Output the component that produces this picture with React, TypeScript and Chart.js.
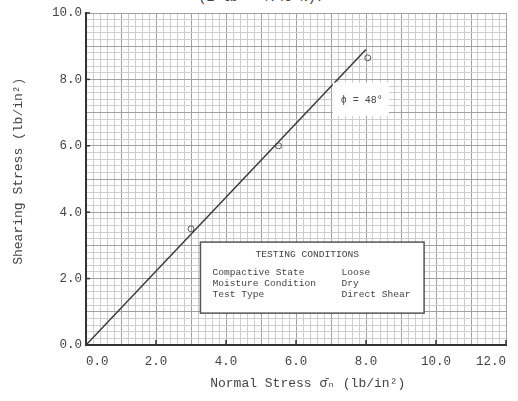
import React, { useEffect, useRef } from "react";
import { Chart, registerables } from "chart.js";

Chart.register(...registerables);

// Measured test points (normal stress, shearing stress), lb/in²
const testNormal = [3.0, 5.5, 8.05];
const testShear = [3.5, 6.0, 8.65];

// Failure envelope (phi = 48°) drawn through the origin
const envNormal = [0, 8.0];
const envShear = [0, 8.9];

const xLabelValues = [0, 2, 4, 6, 8, 10, 12];
const yLabelValues = [0, 2, 4, 6, 8, 10];

const conditionNames = ["Compactive State", "Moisture Condition", "Test Type"];
const conditionValues = ["Loose", "Dry", "Direct Shear"];

const FONT = "'Liberation Mono', 'DejaVu Sans Mono', monospace";
const INK = "#444";

const isOn = (v: number, step: number) => Math.abs(v / step - Math.round(v / step)) < 1e-6;

const overlayPlugin = {
  id: "overlay",
  afterDatasetsDraw(chart: any) {
    const { ctx } = chart;
    const xs = chart.scales.x;
    const ys = chart.scales.y;
    ctx.save();
    // inward tick marks
    ctx.strokeStyle = "#333";
    ctx.lineWidth = 1.5;
    xLabelValues.forEach((v) => {
      if (v === 0) return;
      const px = xs.getPixelForValue(v);
      ctx.beginPath();
      ctx.moveTo(px, ys.bottom);
      ctx.lineTo(px, ys.bottom - 5);
      ctx.stroke();
    });
    yLabelValues.forEach((v) => {
      if (v === 0) return;
      const py = ys.getPixelForValue(v);
      ctx.beginPath();
      ctx.moveTo(xs.left, py);
      ctx.lineTo(xs.left + 4, py);
      ctx.stroke();
    });

    // phi box
    const p1x = xs.getPixelForValue(7.05);
    const p2x = xs.getPixelForValue(8.65);
    const p1y = ys.getPixelForValue(7.9);
    const p2y = ys.getPixelForValue(6.9);
    ctx.fillStyle = "#fff";
    ctx.fillRect(p1x, p1y, p2x - p1x, p2y - p1y);
    ctx.fillStyle = INK;
    ctx.font = `10px ${FONT}`;
    ctx.textAlign = "center";
    ctx.textBaseline = "middle";
    ctx.fillText("\u03D5 = 48\u00B0", (p1x + p2x) / 2 + 1, (p1y + p2y) / 2 + 1);

    // testing conditions box
    const bx1 = xs.getPixelForValue(3.27);
    const bx2 = xs.getPixelForValue(9.66);
    const by1 = ys.getPixelForValue(3.1);
    const by2 = ys.getPixelForValue(0.96);
    ctx.fillStyle = "#fff";
    ctx.fillRect(bx1, by1, bx2 - bx1, by2 - by1);
    ctx.strokeStyle = "#555";
    ctx.lineWidth = 1.5;
    ctx.strokeRect(bx1, by1, bx2 - bx1, by2 - by1);
    ctx.fillStyle = INK;
    ctx.font = `9.6px ${FONT}`;
    ctx.textAlign = "center";
    ctx.fillText("TESTING CONDITIONS", (bx1 + bx2) / 2 - 5, by1 + 12);
    ctx.textAlign = "left";
    conditionNames.forEach((n, i) => {
      const y = by1 + 30 + i * 11.2;
      ctx.fillText(n, bx1 + 12, y);
      ctx.fillText(conditionValues[i], bx1 + 141, y);
    });
    ctx.restore();
  },
};

export default function App() {
  const ref = useRef<HTMLCanvasElement | null>(null);

  useEffect(() => {
    document.body.style.margin = "0";
    const canvas = ref.current!;
    const gridColor = (ctx: any) => {
      const v = ctx.tick ? ctx.tick.value : 0;
      if (isOn(v, 1)) return "#a0a0a0";
      return "#cdcdcd";
    };
    const chart = new Chart(canvas, {
      type: "scatter",
      data: {
        datasets: [
          {
            label: "Envelope",
            data: envNormal.map((x, i) => ({ x, y: envShear[i] })),
            showLine: true,
            borderColor: "#3a3a3a",
            borderWidth: 1.5,
            pointRadius: 0,
          },
          {
            label: "Tests",
            data: testNormal.map((x, i) => ({ x, y: testShear[i] })),
            showLine: false,
            pointStyle: "circle",
            pointRadius: 3,
            borderColor: "#555",
            borderWidth: 1,
            backgroundColor: "rgba(255,255,255,0)",
          },
        ],
      },
      options: {
        responsive: false,
        animation: false,
        devicePixelRatio: 1,
        layout: { padding: { top: 13, right: 12, left: 0, bottom: 0 }, autoPadding: false } as any,
        plugins: {
          legend: { display: false },
          tooltip: { enabled: false },
        },
        scales: {
          x: {
            type: "linear",
            min: 0,
            max: 12,
            afterFit: (s: any) => {
              s.height = 56;
              s.paddingLeft = 0;
              s.paddingRight = 0;
            },
            border: { color: "#333", width: 2 },
            grid: { color: gridColor, lineWidth: 1, drawTicks: false },
            ticks: {
              stepSize: 0.2,
              autoSkip: false,
              maxRotation: 0,
              align: "inner",
              padding: 9,
              color: INK,
              font: { family: FONT, size: 12.5 },
              callback: (v: any) => (isOn(Number(v), 2) ? Number(v).toFixed(1) : ""),
            },
            title: {
              display: true,
              text: "   Normal Stress \u03C3\u0304\u2099 (lb/in\u00B2)",
              color: INK,
              font: { family: FONT, size: 13 },
              padding: { top: 0, bottom: 10 },
            },
          },
          y: {
            type: "linear",
            min: 0,
            max: 10,
            afterFit: (s: any) => {
              s.width = 86;
              s.paddingTop = 0;
              s.paddingBottom = 0;
            },
            border: { color: "#333", width: 2 },
            grid: { color: gridColor, lineWidth: 1, drawTicks: false },
            ticks: {
              stepSize: 0.2,
              autoSkip: false,
              padding: 4,
              color: INK,
              font: { family: FONT, size: 12.5 },
              callback: (v: any) => (isOn(Number(v), 2) ? Number(v).toFixed(1) : ""),
            },
            title: {
              display: true,
              text: "  Shearing Stress (lb/in\u00B2)",
              color: INK,
              font: { family: FONT, size: 13 },
              padding: { top: 11, bottom: 0 },
            },
          },
        },
      },
      plugins: [overlayPlugin],
    });
    return () => chart.destroy();
  }, []);

  return (
    <div style={{ position: "absolute", left: 0, top: 0, width: 518, height: 401, overflow: "hidden" }}>
      <div
        style={{
          position: "absolute",
          top: -10,
          left: 0,
          width: 518,
          textAlign: "center",
          fontFamily: FONT,
          fontSize: 13,
          color: INK,
          paddingLeft: 2,
        }}
      >
        (1 lb = 4.45 N).
      </div>
      <canvas ref={ref} width={518} height={401} style={{ position: "absolute", left: 0, top: 0 }} />
    </div>
  );
}
